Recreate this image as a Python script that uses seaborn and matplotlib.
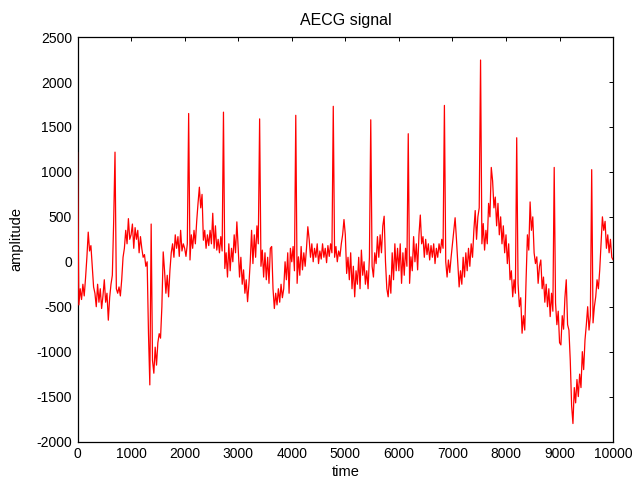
import numpy as np
import pandas as pd
import matplotlib
matplotlib.use("Agg")
import matplotlib.pyplot as plt
import seaborn as sns

# AECG amplitude, one reading every 25 samples, grouped per 1000 samples
step = 25
amp_0000 = [1220, -480, -300, -420, -250, -380, -180, 50, 330, 120,
            180, -50, -280, -350, -500, -250, -450, -300, -520, -380,
            -200, -450, -350, -650, -400, -250, -150, 450, 1220, -300,
            -350, -280, -380, -200, 50, 150, 350, 200, 480, 250]
amp_1000 = [300, 420, 150, 380, 250, 350, 100, 280, 150, 50,
            80, -50, 0, -800, -1370, 420, -1100, -1240, -950, -1150,
            -900, -800, -850, -500, 110, -100, -350, -150, -390, -100,
            100, 200, 50, 300, 150, 280, 60, 350, 120, 200]
amp_2000 = [150, 60, 200, 1650, 20, 300, 150, 350, 200, 450,
            650, 830, 600, 750, 240, 350, 150, 300, 180, 350,
            200, 540, 150, 400, 130, 250, 100, 280, 120, 1665,
            -75, 100, -170, 200, -100, 150, 0, 300, 100, 444]
amp_3000 = [150, -170, 50, -250, -90, -350, -200, -444, -250, 0,
            350, -20, 300, 50, 400, 200, 1590, -50, 130, -170,
            100, -200, 50, -240, 150, 170, -300, -520, -350, -480,
            -300, -450, -250, -400, -300, 0, -200, 100, -350, 150]
amp_4000 = [0, 170, -100, 1630, -240, 55, -150, 170, -90, 100,
            -50, 150, 390, 250, 50, 200, 0, 150, 50, 200,
            -20, 120, 30, 200, 50, 150, -10, 180, 60, 200,
            100, 1730, 50, 170, 0, 120, 60, 200, 300, 470]
amp_5000 = [300, -130, 50, -200, 100, -300, -50, -390, -100, -250,
            50, -300, 130, -150, 0, -250, -100, -300, 50, 1580,
            -50, -170, 100, -20, 280, 50, 300, 100, 400, 507,
            0, -300, -390, -150, -350, 100, -200, 200, -100, 150]
amp_6000 = [-100, 200, -240, 100, -150, 150, -50, 1425, -240, 55,
            -100, 280, 0, 200, -90, 300, 520, 200, 280, 50,
            250, 80, 200, 20, 180, 50, 200, -20, 150, 50,
            200, 100, 250, 150, 1740, 0, -170, 20, -120, 50]
amp_7000 = [200, 350, 490, 250, -20, -280, -100, -250, 50, -170,
            100, -100, 150, -50, 200, 50, 350, 570, 250, 500,
            600, 2245, 200, 425, 130, 350, 200, 650, 500, 1050,
            900, 600, 720, 400, 650, 300, 500, 200, 400, 100]
amp_8000 = [300, -20, 200, -200, -100, -390, -200, -350, 1380, -240,
            -500, -400, -795, -600, -760, -200, 300, 130, 666, 350,
            500, 100, -20, 55, -240, -50, 20, -300, -170, -450,
            -250, -500, -300, -610, -350, -550, 1050, -460, -700, -550]
amp_9000 = [-900, -925, -600, -750, -400, -200, -700, -760, -1100, -1600,
            -1800, -1400, -1570, -1310, -1500, -1250, -1400, -1000, -1200, -870,
            -700, -500, -760, -600, 1025, -680, -500, -390, -200, -300,
            -90, 200, 500, 350, 450, 150, 300, 100, 250, 50, 20]

amplitude = np.concatenate([amp_0000, amp_1000, amp_2000, amp_3000, amp_4000,
                            amp_5000, amp_6000, amp_7000, amp_8000, amp_9000])
time = np.arange(len(amplitude)) * step
df = pd.DataFrame({"time": time, "amplitude": amplitude})

x_ticks = [0, 1000, 2000, 3000, 4000, 5000, 6000, 7000, 8000, 9000, 10000]
y_ticks = [-2000, -1500, -1000, -500, 0, 500, 1000, 1500, 2000, 2500]

sns.set_style("white")
plt.rcParams["font.family"] = ["Liberation Sans", "DejaVu Sans"]
plt.rcParams["font.size"] = 10
plt.rcParams["axes.unicode_minus"] = False
plt.rcParams["text.color"] = "black"
plt.rcParams["axes.labelcolor"] = "black"

fig = plt.figure(figsize=(6.38, 4.82), dpi=100)
ax = fig.add_axes([0.1215, 0.084, 0.8395, 0.839])

sns.lineplot(data=df, x="time", y="amplitude", color="#ff0000",
             linewidth=0.9, ax=ax, estimator=None, sort=False, zorder=3)

ax.set_xlim(0, 10000)
ax.set_ylim(-2000, 2500)
ax.set_xticks(x_ticks)
ax.set_yticks(y_ticks)
ax.tick_params(direction="in", top=True, right=True, length=3,
               width=0.7, labelsize=10, colors="black", pad=4)
for side in ax.spines.values():
    side.set_color("black")
    side.set_linewidth(0.9)

ax.set_title("AECG signal", fontsize=11.5, pad=9, color="black")
ax.set_xlabel("time", fontsize=10.5, labelpad=3, color="black")
ax.set_ylabel("amplitude", fontsize=10.5, labelpad=9, color="black")

fig.savefig("out.png", dpi=100, facecolor="white")
